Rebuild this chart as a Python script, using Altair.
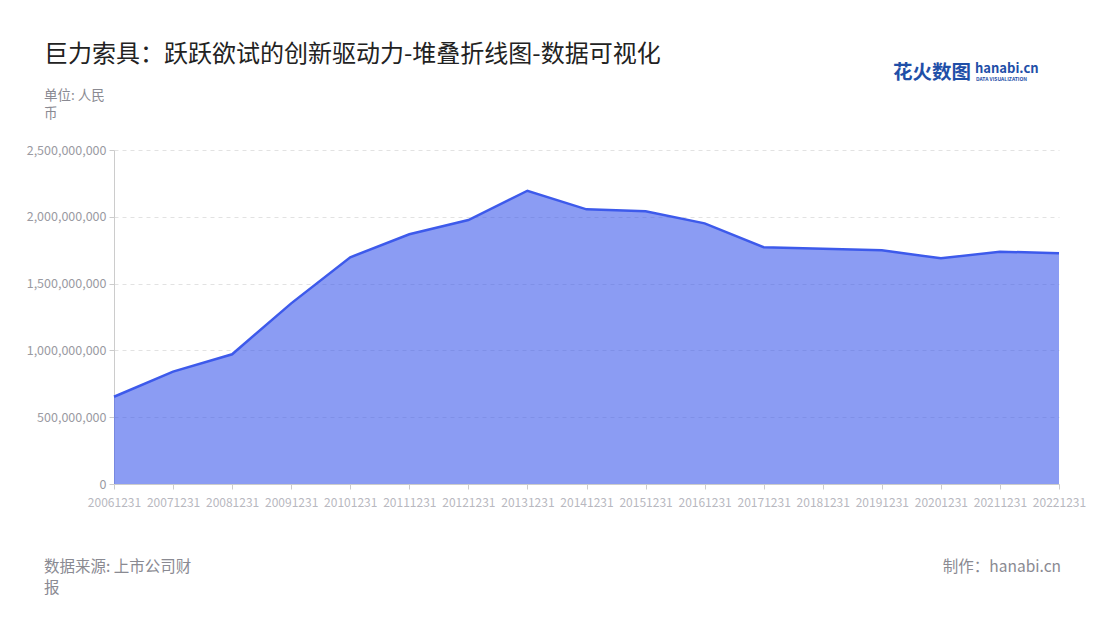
import altair as alt
import pandas as pd

dates = ["20061231", "20071231", "20081231", "20091231", "20101231", "20111231",
         "20121231", "20131231", "20141231", "20151231", "20161231", "20171231",
         "20181231", "20191231", "20201231", "20211231", "20221231"]
values = [653e6, 841e6, 971e6, 1352e6, 1697e6, 1869e6, 1976e6, 2195e6, 2056e6,
          2041e6, 1951e6, 1772e6, 1761e6, 1749e6, 1689e6, 1739e6, 1727e6]
y_ticks = [0, 500000000, 1000000000, 1500000000, 2000000000, 2500000000]

title_text = "巨力索具：跃跃欲试的创新驱动力-堆叠折线图-数据可视化"
unit_lines = ["单位: 人民", "币"]
source_lines = ["数据来源: 上市公司财", "报"]
maker_text = "制作：hanabi.cn"

FONT = "Noto Sans CJK SC"
LINE = "#3d5aeb"

df = pd.DataFrame({"date": dates, "value": values})

base = alt.Chart(df).encode(
    x=alt.X("date:O", scale=alt.Scale(padding=0),
            axis=alt.Axis(title=None, labelAngle=0, labelColor="#b8b8c0", labelFontSize=12,
                          labelFont=FONT, domainColor="#cccccc", tickColor="#cccccc",
                          tickSize=5, labelPadding=8, grid=False, labelOverlap=False)),
    y=alt.Y("value:Q", scale=alt.Scale(domain=[0, 2500000000], nice=False),
            axis=alt.Axis(title=None, values=y_ticks, format=",d", labelColor="#9a9aa2",
                          labelFontSize=12.5, labelFont=FONT, domainColor="#cccccc",
                          tickColor="#cccccc", tickSize=5, labelPadding=3,
                          grid=True, gridDash=[4, 4], gridColor="#e2e2e2")),
)

area = base.mark_area(color=LINE, fillOpacity=0.6)
line = base.mark_line(color=LINE, strokeWidth=2.5)

def text_layer(text, x, y, size, color, align="left", weight="normal", baseline="middle"):
    return alt.Chart(pd.DataFrame({"t": [text]})).mark_text(
        align=align, baseline=baseline, fontSize=size, font=FONT, color=color,
        fontWeight=weight
    ).encode(text="t:N", x=alt.value(x), y=alt.value(y))

ox, oy = 114, 150
texts = [
    text_layer(title_text, 44 - ox, 55 - oy, 24, "#222222"),
    text_layer(unit_lines[0], 44 - ox, 96 - oy, 13.5, "#8a8a92"),
    text_layer(unit_lines[1], 44 - ox, 114 - oy, 13.5, "#8a8a92"),
    text_layer(source_lines[0], 44 - ox, 567 - oy, 15.5, "#8a8a92"),
    text_layer(source_lines[1], 44 - ox, 588 - oy, 15.5, "#8a8a92"),
    text_layer(maker_text, 1061 - ox, 567 - oy, 15.5, "#8a8a92", align="right"),
    text_layer("花火数图", 893 - ox, 73 - oy, 19.5, "#1f4fa8", weight="bold"),
    text_layer("hanabi.cn", 975 - ox, 69 - oy, 13, "#1f4fa8", weight="bold"),
    text_layer("DATA VISUALIZATION", 976 - ox, 79 - oy, 5, "#1f4fa8", weight="bold"),
]

chart = alt.layer(area, line, *texts).properties(
    width=945, height=334,
    background="white",
    autosize=alt.AutoSizeParams(type="none"),
    padding={"left": 106, "top": 142, "right": 33, "bottom": 120},
).configure_view(strokeWidth=0, stroke=None)

chart.save("out.html", embed_options={"renderer": "svg", "actions": False})
